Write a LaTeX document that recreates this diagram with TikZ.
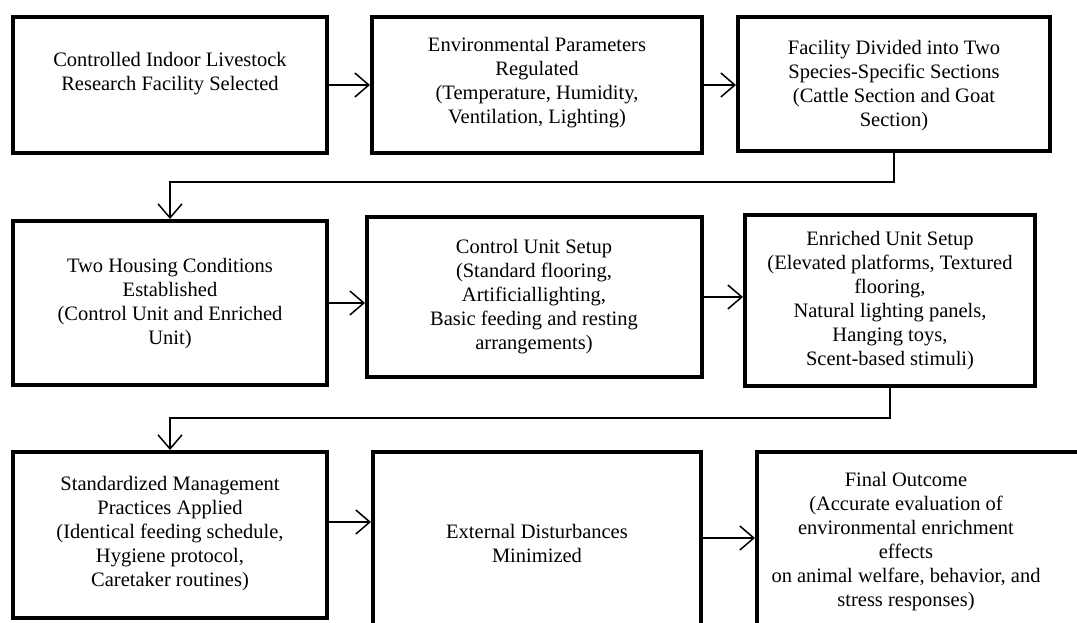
\documentclass[tikz,border=0pt]{standalone}
\usepackage{fontspec}
\setmainfont{Liberation Serif}
\usetikzlibrary{arrows.meta}
\tikzset{
  box/.style={draw, line width=4pt, rectangle, inner sep=0pt, minimum width=#1},
  txt/.style={align=center, inner sep=0pt, font=\fontsize{20.5}{24}\selectfont},
  arr/.style={line width=1.5pt, -{Straight Barb[length=14pt,width=24pt,line width=1.5pt]}},
}
\begin{document}
\begin{tikzpicture}[x=1pt,y=-1pt]
\useasboundingbox (0,0) rectangle (1077,623);
\clip (0,0) rectangle (1077,623);
\fill[white] (0,0) rectangle (1077,623);
% boxes (line-centre geometry in px)
\node[box=314pt, minimum height=136pt] (B1) at (170,85) {};
\node[box=330pt, minimum height=136pt] (B2) at (537,85) {};
\node[box=312pt, minimum height=134pt] (B3) at (894,84) {};
\node[box=314pt, minimum height=164pt] (B4) at (170,303) {};
\node[box=335pt, minimum height=160pt] (B5) at (534.5,297) {};
\node[box=290pt, minimum height=171pt] (B6) at (890,300.5) {};
\node[box=314pt, minimum height=166pt] (B7) at (170,535) {};
\node[box=328pt, minimum height=208pt] (B8) at (537,556) {};
\node[box=363pt, minimum height=208pt] (B9) at (938.5,556) {};
% texts
\node[txt] (T1) at (170,74) {Controlled Indoor Livestock\\Research Facility Selected};
\node[txt] (T2) at (537,83) {Environmental Parameters\\Regulated\\(Temperature, Humidity,\\Ventilation, Lighting)};
\node[txt] (T3) at (894,86) {Facility Divided into Two\\Species-Specific Sections\\(Cattle Section and Goat\\Section)};
\node[txt] (T4) at (170,304) {Two Housing Conditions\\Established\\(Control Unit and Enriched\\Unit)};
\node[txt] (T5) at (534,297) {Control Unit Setup\\(Standard flooring,\\Artificiallighting,\\Basic feeding and resting\\arrangements)};
\node[txt] (T6) at (890,301) {Enriched Unit Setup\\(Elevated platforms, Textured\\flooring,\\Natural lighting panels,\\Hanging toys,\\Scent-based stimuli)};
\node[txt] (T7) at (170,534) {Standardized Management\\Practices Applied\\(Identical feeding schedule,\\Hygiene protocol,\\Caretaker routines)};
\node[txt] (T8) at (537,543) {External Disturbances\\Minimized};
\node[txt] (T9) at (906,542) {Final Outcome\\(Accurate evaluation of\\environmental enrichment\\effects\\on animal welfare, behavior, and\\stress responses)};
% connectors
\draw[arr] (B1.east) -- (B2.west);
\draw[arr] (B2.east) -- (B3.west |- B2.east);
\draw[arr] (B3.south) -- (B3.south |- 0,182) -| (B4.north);
\draw[arr] (B4.east) -- (B5.west |- B4.east);
\draw[arr] (B5.east) -- (B6.west |- B5.east);
\draw[arr] (B6.south) -- (B6.south |- 0,418) -| (B7.north);
\coordinate (c78) at ([yshift=13pt]B7.east);
\draw[arr] (c78) -- (B8.west |- c78);
\coordinate (c89) at ([yshift=18pt]B8.east);
\draw[arr] (c89) -- (B9.west |- c89);
\end{tikzpicture}
\end{document}
